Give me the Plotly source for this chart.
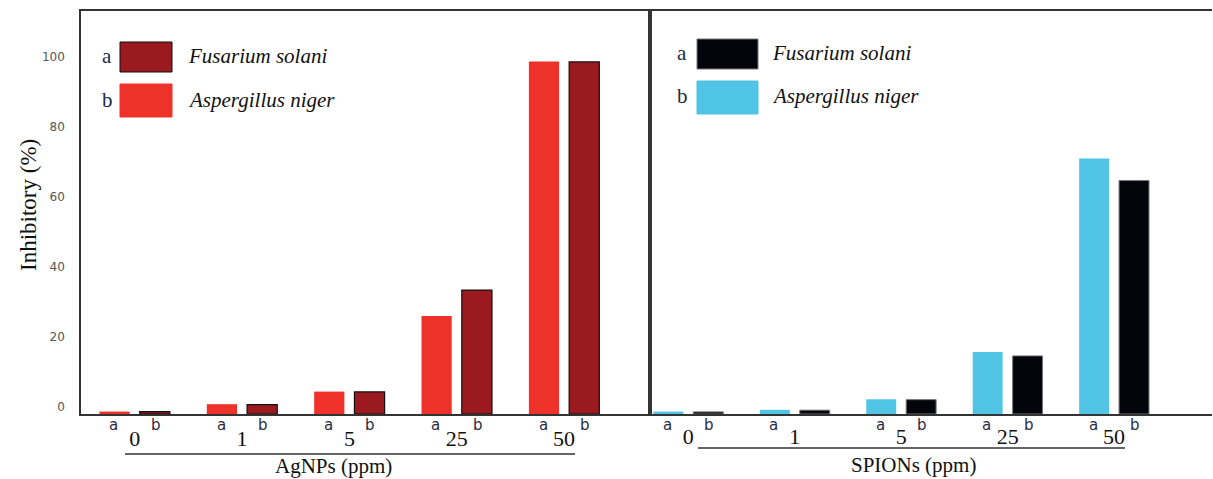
import plotly.graph_objects as go

# ---------------- data ----------------
doses = ["0", "1", "5", "25", "50"]
ag_aspergillus = [0.7, 2.8, 6.4, 28.0, 100.7]   # AgNPs, Aspergillus niger (left bar)
ag_fusarium = [0.7, 2.7, 6.3, 35.4, 100.6]      # AgNPs, Fusarium solani (right bar)
sp_aspergillus = [0.7, 1.2, 4.2, 17.7, 73.0]    # SPIONs, Aspergillus niger
sp_fusarium = [0.6, 1.1, 4.1, 16.6, 66.7]       # SPIONs, Fusarium solani
ag_letters_left = ["a", "a", "a", "a", "a"]
ag_letters_right = ["b", "b", "b", "b", "b"]
sp_letters_left = ["a", "a", "a", "a", "a"]
sp_letters_right = ["b", "", "b", "b", "b"]
y_ticks = [0, 20, 40, 60, 80, 100]

# ---------------- layout helpers ----------------
W, H = 1213, 479
L, R, T, B = 81, 1, 11, 65
PW, PH = W - L - R, H - T - B


def px(x):
    return (x - L) / PW


def py(y):
    return (H - B - y) / PH


split = px(650)

SERIF = "Liberation Serif"
SANS = "DejaVu Sans"

C_DARKRED = "#9a1a20"
C_RED = "#ee3229"
C_CYAN = "#4fc4e4"
C_BLACK = "#04040c"

fig = go.Figure()
fig.add_trace(go.Bar(x=doses, y=ag_aspergillus, marker=dict(color=C_RED, line=dict(width=0)),
                     xaxis="x", yaxis="y", name="Aspergillus niger"))
fig.add_trace(go.Bar(x=doses, y=ag_fusarium, marker=dict(color=C_DARKRED, line=dict(color="#111", width=1.2)),
                     xaxis="x", yaxis="y", name="Fusarium solani"))
fig.add_trace(go.Bar(x=doses, y=sp_aspergillus, marker=dict(color=C_CYAN, line=dict(width=0)),
                     xaxis="x2", yaxis="y2", name="Aspergillus niger"))
fig.add_trace(go.Bar(x=doses, y=sp_fusarium, marker=dict(color=C_BLACK, line=dict(color="#777", width=1)),
                     xaxis="x2", yaxis="y2", name="Fusarium solani"))

ymax = PH / 3.5
axis_line = dict(showline=True, linecolor="#333", linewidth=1.5, showgrid=False, zeroline=False)

fig.update_layout(
    width=W, height=H,
    margin=dict(l=L, r=R, t=T, b=B),
    paper_bgcolor="white", plot_bgcolor="white",
    barmode="group", bargap=0.25, bargroupgap=0.25,
    showlegend=False,
    xaxis=dict(domain=[0, split], type="category", range=[-0.5, 4.8], mirror=True, ticks="",
               tickfont=dict(family=SERIF, size=22, color="#111"), ticklabelstandoff=4, **axis_line),
    xaxis2=dict(domain=[split, 1], type="category", range=[-0.36, 4.92], mirror=True, ticks="",
                tickfont=dict(family=SERIF, size=22, color="#111"), ticklabelstandoff=2, **axis_line),
    yaxis=dict(domain=[0, 1], range=[0, ymax], anchor="x", mirror=True, tickvals=y_ticks, ticks="",
               tickfont=dict(family=SANS, size=12, color="#555"), ticklabelshift=-7, ticklabelstandoff=12,
               **axis_line),
    yaxis2=dict(domain=[0, 1], range=[0, ymax], anchor="x2", showticklabels=False, ticks="",
                **axis_line),
)

ann = []
shapes = []

# letters under bars (x given as category index on the category axis)
for xa, left_l, right_l in (("x", ag_letters_left, ag_letters_right), ("x2", sp_letters_left, sp_letters_right)):
    for i, (la, lb) in enumerate(zip(left_l, right_l)):
        for txt, sh in ((la, -21), (lb, 21)):
            if txt:
                ann.append(dict(x=i, xref=xa, y=0, yref="paper", text=txt, showarrow=False,
                                xshift=sh, yshift=-11, yanchor="middle", xanchor="center",
                                font=dict(family=SANS, size=15, color="#2a2a44")))

# underline + axis titles
shapes.append(dict(type="line", xref="paper", yref="paper", x0=px(125), x1=px(575), y0=py(454), y1=py(454),
                   line=dict(color="#333", width=1.5)))
shapes.append(dict(type="line", xref="paper", yref="paper", x0=px(698), x1=px(1125), y0=py(448), y1=py(448),
                   line=dict(color="#333", width=1.5)))
ann.append(dict(x=px(333), y=py(466), xref="paper", yref="paper", text="AgNPs (ppm)", showarrow=False,
                xanchor="center", yanchor="middle",
                font=dict(family=SERIF, size=21, color="#111")))
ann.append(dict(x=px(913), y=py(465), xref="paper", yref="paper", text="SPIONs (ppm)", showarrow=False,
                xanchor="center", yanchor="middle",
                font=dict(family=SERIF, size=21, color="#111")))

# y-axis title
ann.append(dict(x=px(28), y=py(205), xref="paper", yref="paper", text="Inhibitory (%)", textangle=-90,
                xanchor="center", yanchor="middle",
                showarrow=False, font=dict(family=SERIF, size=23, color="#111")))

# legends (drawn)
legend_items = [
    (107, 120, 172, 186, [("a", 42, 72, C_DARKRED, "#111", "Fusarium solani"),
                          ("b", 84, 117, C_RED, C_RED, "Aspergillus niger")]),
    (682, 697, 758, 770, [("a", 39, 69, C_BLACK, "#777", "Fusarium solani"),
                          ("b", 81, 114, C_CYAN, C_CYAN, "Aspergillus niger")]),
]
for lx, sx0, sx1, tx, rows in legend_items:
    for letter, y0, y1, col, border, label in rows:
        shapes.append(dict(type="rect", xref="paper", yref="paper", x0=px(sx0), x1=px(sx1),
                           y0=py(y1), y1=py(y0), fillcolor=col, line=dict(color=border, width=1)))
        ym = (y0 + y1) / 2 - 1
        ann.append(dict(x=px(lx), y=py(ym), xref="paper", yref="paper", text=letter, showarrow=False,
                        xanchor="center", yanchor="middle",
                        font=dict(family=SERIF, size=21, color="#1a2a4a")))
        ann.append(dict(x=px(tx), y=py(ym), xref="paper", yref="paper", text="<i>" + label + "</i>",
                        showarrow=False, xanchor="left", yanchor="middle",
                        font=dict(family=SERIF, size=21, color="#111")))

fig.update_layout(annotations=ann, shapes=shapes)
fig.write_html("out.html", config={"displayModeBar": False},
               post_script="document.body.style.margin='0px';")
